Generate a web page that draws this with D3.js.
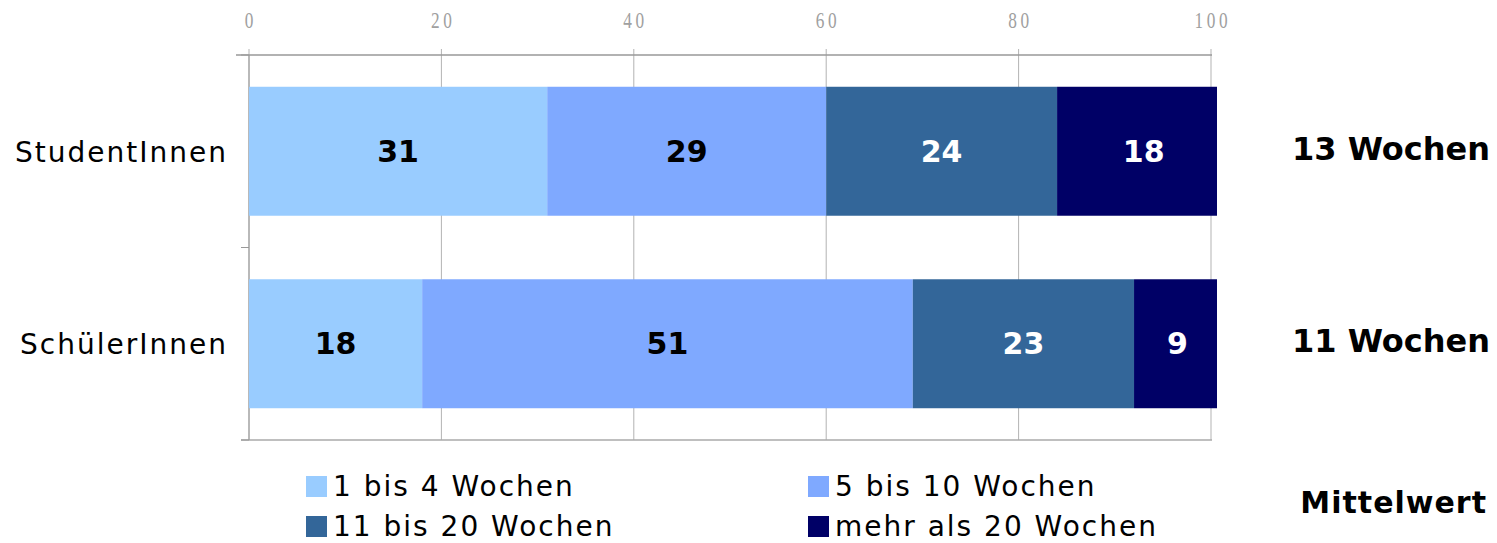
<!DOCTYPE html>
<html>
<head>
<meta charset="utf-8">
<script src="https://cdn.jsdelivr.net/npm/d3@7"></script>
<style>
  body { margin: 0; background: #fff; }
  svg { display: block; }
</style>
</head>
<body>
<svg id="chart"></svg>
<script>
const categories = ["StudentInnen", "SchülerInnen"];
const seriesNames = ["1 bis 4 Wochen", "5 bis 10 Wochen", "11 bis 20 Wochen", "mehr als 20 Wochen"];
const seriesColors = ["#99ccff", "#7fa9ff", "#336699", "#000066"];
const labelColors = ["#000", "#000", "#fff", "#fff"];
const values = [
  [31, 29, 24, 18],
  [18, 51, 23, 9]
];
const means = ["13 Wochen", "11 Wochen"];
const ticks = [0, 20, 40, 60, 80, 100];

const width = 1497, height = 543;
const svg = d3.select("#chart").attr("width", width).attr("height", height);

const plotL = 249, plotR = 1211, plotT = 55, plotB = 440, clipR = 1217;
const x = d3.scaleLinear().domain([0, 100]).range([plotL, plotR]);
const y = d3.scaleBand().domain(categories).range([plotT, plotB]).paddingInner(0.33).paddingOuter(0.165);
const font = "DejaVu Sans, Verdana, sans-serif";

// stack the rows
const rows = categories.map((c, i) => {
  let acc = 0;
  return values[i].map((v, k) => {
    const d = { cat: c, k, v, x0: acc, x1: acc + v };
    acc += v;
    return d;
  });
});

svg.append("clipPath").attr("id", "plot")
  .append("rect").attr("x", plotL).attr("y", plotT).attr("width", clipR - plotL).attr("height", plotB - plotT);

// gridlines
svg.append("g").selectAll("line").data(ticks).join("line")
  .attr("x1", d => x(d)).attr("x2", d => x(d))
  .attr("y1", plotT - 6).attr("y2", plotB)
  .attr("stroke", "#b3b3b3").attr("stroke-width", 1);

// top axis line
svg.append("line").attr("x1", 236).attr("x2", plotR + 1).attr("y1", plotT).attr("y2", plotT)
  .attr("stroke", "#999").attr("stroke-width", 1.5);
// bottom line
svg.append("line").attr("x1", 241).attr("x2", plotR + 1).attr("y1", plotB).attr("y2", plotB)
  .attr("stroke", "#aaa").attr("stroke-width", 1.5);
// left axis line and category ticks
svg.append("line").attr("x1", plotL).attr("x2", plotL).attr("y1", plotT).attr("y2", plotB)
  .attr("stroke", "#999").attr("stroke-width", 1);
svg.append("g").selectAll("line").data([plotT, (plotT + plotB) / 2, plotB]).join("line")
  .attr("x1", 241).attr("x2", plotL).attr("y1", d => d).attr("y2", d => d)
  .attr("stroke", "#999");

// tick labels (narrow, widely spaced serif)
svg.append("g").selectAll("text").data(ticks).join("text")
  .attr("transform", d => `translate(${x(d)},28) scale(0.72,1)`)
  .attr("text-anchor", "middle")
  .attr("dx", 2.5)
  .attr("font-family", "Liberation Serif, serif")
  .attr("font-size", 24).attr("letter-spacing", 5)
  .attr("fill", "#a0a0a0")
  .text(d => d);

// bars
const barG = svg.append("g").attr("clip-path", "url(#plot)");
rows.forEach(r => {
  barG.selectAll(null).data(r).join("rect")
    .attr("x", d => x(d.x0)).attr("width", d => x(d.x1) - x(d.x0))
    .attr("y", d => y(d.cat)).attr("height", y.bandwidth())
    .attr("fill", d => seriesColors[d.k]);
});

// value labels, centred on the full (unclipped) segment
rows.forEach(r => {
  svg.append("g").selectAll("text").data(r).join("text")
    .attr("x", d => (x(d.x0) + x(d.x1)) / 2)
    .attr("y", d => y(d.cat) + y.bandwidth() / 2 + 10.5)
    .attr("text-anchor", "middle")
    .attr("font-family", font)
    .attr("font-weight", "bold").attr("font-size", 30)
    .attr("fill", d => labelColors[d.k])
    .text(d => d.v);
});

// category labels
svg.append("g").selectAll("text").data(categories).join("text")
  .attr("x", 228).attr("y", d => y(d) + y.bandwidth() / 2 + 10.5)
  .attr("text-anchor", "end")
  .attr("font-family", font)
  .attr("font-size", 28).attr("letter-spacing", 2).attr("fill", "#000")
  .text(d => d);

// means
svg.append("g").selectAll("text").data(means).join("text")
  .attr("x", 1490).attr("y", (d, i) => y(categories[i]) + y.bandwidth() / 2 + 8.5)
  .attr("text-anchor", "end")
  .attr("font-family", font)
  .attr("font-weight", "bold").attr("font-size", 32)
  .text(d => d);
svg.append("text").attr("x", 1487).attr("y", 513)
  .attr("text-anchor", "end")
  .attr("font-family", font)
  .attr("font-weight", "bold").attr("font-size", 30).attr("letter-spacing", 1)
  .text("Mittelwert");

// legend
const legend = svg.append("g").selectAll("g").data(seriesNames).join("g")
  .attr("transform", (d, i) => `translate(${i % 2 ? 808 : 306},${i < 2 ? 476 : 516})`);
legend.append("rect").attr("width", 21).attr("height", 21).attr("fill", (d, i) => seriesColors[i]);
legend.append("text").attr("x", 27).attr("y", 20)
  .attr("font-family", font)
  .attr("font-size", 28).attr("letter-spacing", 2)
  .text(d => d);
</script>
</body>
</html>
